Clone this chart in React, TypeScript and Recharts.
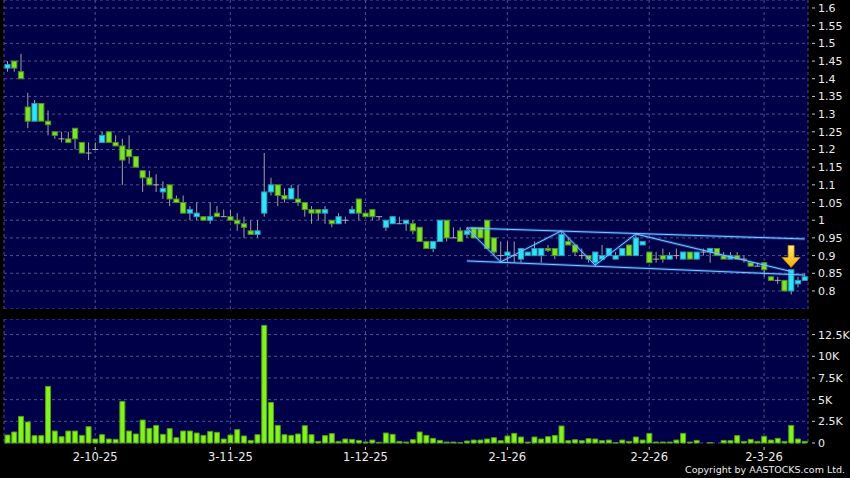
import {
  Bar,
  CartesianGrid,
  ComposedChart,
  ReferenceDot,
  ReferenceLine,
  XAxis,
  YAxis,
} from 'recharts';

// daily OHLC, oldest first
const open = [
  1.43, 1.45, 1.42, 1.32, 1.28, 1.33, 1.28, 1.25, 1.23, 1.23,
  1.26, 1.22, 1.19, 1.2, 1.22, 1.25, 1.22, 1.21, 1.2, 1.18,
  1.14, 1.12, 1.1, 1.08, 1.1, 1.06, 1.05, 1.02, 1.01, 1.01,
  1.0, 1.02, 1.01, 1.01, 1.0, 0.99, 0.97, 0.96, 1.02, 1.08,
  1.1, 1.07, 1.06, 1.06, 1.05, 1.03, 1.03, 1.02, 1.0, 0.99,
  1.0, 1.02, 1.06, 1.02, 1.03, 1.01, 0.98, 0.99, 0.99, 0.99,
  0.99, 0.98, 0.94, 0.92, 0.94, 1.0, 0.95, 0.97, 0.96, 0.98,
  0.98, 1.0, 0.95, 0.9, 0.9, 0.9, 0.89, 0.9, 0.9, 0.9,
  0.92, 0.92, 0.9, 0.94, 0.93, 0.9, 0.9, 0.88, 0.89, 0.9,
  0.89, 0.9, 0.93, 0.9, 0.93, 0.91, 0.89, 0.9, 0.89, 0.9,
  0.89, 0.91, 0.89, 0.91, 0.91, 0.92, 0.9, 0.89, 0.9, 0.89,
  0.88, 0.87, 0.88, 0.84, 0.83, 0.83, 0.8, 0.82, 0.83,
];
const high = [
  1.45, 1.45, 1.47, 1.36, 1.34, 1.33, 1.31, 1.25, 1.25, 1.25,
  1.26, 1.22, 1.22, 1.22, 1.25, 1.25, 1.24, 1.23, 1.24, 1.18,
  1.14, 1.14, 1.13, 1.11, 1.1, 1.07, 1.07, 1.04, 1.05, 1.01,
  1.05, 1.04, 1.03, 1.03, 1.02, 1.01, 1.0, 1.0, 1.19, 1.12,
  1.1, 1.09, 1.1, 1.1, 1.05, 1.04, 1.03, 1.04, 1.0, 1.02,
  1.01, 1.04, 1.06, 1.02, 1.03, 1.01, 1.0, 1.01, 1.01, 1.0,
  1.0, 0.98, 0.94, 0.94, 1.0, 1.0, 0.98, 0.98, 0.98, 0.98,
  0.98, 1.0, 0.95, 0.94, 0.94, 0.94, 0.92, 0.91, 0.94, 0.92,
  0.93, 0.92, 0.97, 0.95, 0.93, 0.92, 0.9, 0.91, 0.93, 0.92,
  0.91, 0.92, 0.93, 0.96, 0.94, 0.91, 0.91, 0.92, 0.91, 0.92,
  0.91, 0.91, 0.91, 0.92, 0.92, 0.92, 0.91, 0.91, 0.91, 0.9,
  0.88, 0.88, 0.88, 0.84, 0.84, 0.83, 0.86, 0.84, 0.85,
];
const low = [
  1.42, 1.42, 1.4, 1.26, 1.28, 1.28, 1.24, 1.23, 1.22, 1.22,
  1.2, 1.19, 1.17, 1.2, 1.22, 1.22, 1.21, 1.1, 1.16, 1.15,
  1.08, 1.1, 1.08, 1.06, 1.04, 1.05, 1.02, 1.0, 1.0, 1.0,
  0.99, 1.01, 1.01, 1.0, 0.97, 0.95, 0.96, 0.95, 1.01, 1.07,
  1.04, 1.05, 1.06, 1.04, 1.01, 0.99, 1.0, 0.99, 0.98, 0.99,
  0.99, 1.02, 1.0, 1.01, 1.0, 1.0, 0.97, 0.99, 0.99, 0.97,
  0.96, 0.94, 0.92, 0.91, 0.94, 0.94, 0.95, 0.94, 0.95, 0.95,
  0.95, 0.92, 0.9, 0.88, 0.88, 0.88, 0.88, 0.9, 0.9, 0.88,
  0.91, 0.89, 0.9, 0.93, 0.9, 0.89, 0.88, 0.87, 0.89, 0.9,
  0.89, 0.9, 0.9, 0.9, 0.93, 0.88, 0.88, 0.88, 0.89, 0.89,
  0.89, 0.89, 0.89, 0.9, 0.88, 0.9, 0.89, 0.89, 0.89, 0.88,
  0.87, 0.87, 0.84, 0.83, 0.82, 0.8, 0.79, 0.81, 0.83,
];
const close = [
  1.44, 1.43, 1.4, 1.28, 1.33, 1.28, 1.27, 1.24, 1.23, 1.22,
  1.23, 1.19, 1.19, 1.2, 1.24, 1.22, 1.21, 1.17, 1.18, 1.15,
  1.12, 1.1, 1.1, 1.09, 1.06, 1.05, 1.02, 1.03, 1.02, 1.0,
  1.01, 1.01, 1.01, 1.0, 0.99, 0.98, 0.96, 0.97, 1.08, 1.1,
  1.07, 1.06, 1.09, 1.05, 1.03, 1.02, 1.02, 1.03, 0.99, 1.01,
  1.0, 1.03, 1.02, 1.01, 1.01, 1.01, 1.0, 1.01, 0.99, 1.0,
  0.97, 0.94, 0.92, 0.94, 1.0, 0.95, 0.95, 0.94, 0.97, 0.95,
  0.95, 0.92, 0.91, 0.9, 0.91, 0.9, 0.92, 0.91, 0.92, 0.92,
  0.915, 0.9, 0.96, 0.93, 0.91, 0.9, 0.89, 0.91, 0.9, 0.92,
  0.9, 0.92, 0.9, 0.95, 0.94, 0.88, 0.89, 0.89, 0.9, 0.9,
  0.91, 0.89, 0.91, 0.91, 0.92, 0.9, 0.89, 0.9, 0.89, 0.89,
  0.87, 0.87, 0.86, 0.83, 0.83, 0.8, 0.86, 0.83, 0.84,
];
// volume in thousands
const volume = [
  0.92, 1.27, 3.07, 2.42, 0.85, 0.85, 6.53, 1.38, 0.73, 1.38,
  1.38, 0.88, 1.88, 0.46, 0.96, 0.46, 0.42, 4.8, 1.38, 1.04,
  2.65, 1.69, 2.03, 1.0, 1.65, 0.61, 1.38, 1.38, 1.15, 0.88,
  1.34, 1.23, 0.46, 0.92, 1.54, 0.81, 0.3, 0.96, 13.56, 4.68,
  2.03, 0.96, 0.88, 1.04, 2.0, 0.96, 0.19, 0.85, 1.08, 0.19,
  0.46, 0.42, 0.3, 0.11, 0.34, 0.08, 1.15, 1.0, 0.19, 0.11,
  0.38, 1.27, 0.88, 0.54, 0.3, 0.11, 0.11, 0.05, 0.23, 0.34,
  0.34, 0.46, 0.61, 0.27, 0.81, 1.11, 0.69, 0.11, 0.69, 0.46,
  0.73, 0.88, 1.96, 0.27, 0.38, 0.27, 0.5, 0.46, 0.27, 0.34,
  0.03, 0.34, 0.19, 0.69, 0.34, 1.11, 0.11, 0.11, 0.11, 0.34,
  1.11, 0.11, 0.3, 0, 0.05, 0, 0.3, 0.27, 0.85, 0.19,
  0.42, 0.19, 0.77, 0.34, 0.54, 0.19, 2.03, 0.46, 0.19,
];

const dateTicks = [13, 33, 53, 74, 95, 112];
const dateLabels = ['2-10-25', '3-11-25', '1-12-25', '2-1-26', '2-2-26', '2-3-26'];
const priceTicks = [
  0.8, 0.85, 0.9, 0.95, 1, 1.05, 1.1, 1.15, 1.2, 1.25, 1.3, 1.35, 1.4, 1.45, 1.5, 1.55, 1.6,
];
const volumeTicks = [0, 2.5, 5, 7.5, 10, 12.5];

// hand-drawn channel and zigzag, as [day index, price]
const channelUpper = [[68, 0.978], [118, 0.947]];
const channelLower = [[68, 0.885], [118, 0.845]];
const zigzag = [[68, 0.978], [73, 0.882], [82, 0.97], [87, 0.873], [93, 0.961], [116, 0.855]];
const arrowDay = 116;
const arrowPrice = 0.8975;

const rows = open.map((o, i) => ({
  i,
  o,
  h: high[i],
  l: low[i],
  c: close[i],
  v: volume[i],
}));

const BG = '#000048';
const GRID = '#50508c';
const TEXT = '#ececec';
const FONT = 'DejaVu Sans';

const Candle = (props: any) => {
  const { x, y, width, height, payload } = props;
  const { o, h, l, c } = payload;
  const top = Math.min(y, y + height);
  const span = Math.abs(height);
  const at = (v: number) => (h === l ? top : top + ((h - v) / (h - l)) * span);
  const mid = x + width / 2;
  const wick = <line x1={mid} x2={mid} y1={at(h)} y2={at(l)} stroke="#a0a0a0" strokeWidth={1} />;
  if (o === c) {
    return (
      <g>
        {wick}
        <line x1={x + 0.5} x2={x + width - 0.5} y1={at(o)} y2={at(o)} stroke="#b0b0b0" strokeWidth={1} />
      </g>
    );
  }
  const up = c > o;
  const bTop = at(Math.max(o, c));
  const bBot = at(Math.min(o, c));
  return (
    <g>
      {wick}
      <rect
        x={x + 0.9}
        y={bTop}
        width={width - 1.8}
        height={Math.max(bBot - bTop, 1)}
        fill={up ? '#2fe4f6' : '#7ee22a'}
        stroke={up ? '#2a9cb8' : '#4a9420'}
        strokeWidth={1}
      />
    </g>
  );
};

const PriceTick = ({ x, y, payload }: any) => (
  <g>
    <line x1={x + 4} x2={x + 7} y1={y} y2={y} stroke="#c8c8c8" />
    <text x={x + 10} y={y} dy={4} fill={TEXT} fontSize={11} fontFamily={FONT}>
      {String(payload.value)}
    </text>
  </g>
);

const VolumeTick = ({ x, y, payload }: any) => (
  <g>
    <line x1={x + 4} x2={x + 7} y1={y} y2={y} stroke="#c8c8c8" />
    <text x={x + 10} y={y} dy={4} fill={TEXT} fontSize={11} fontFamily={FONT}>
      {payload.value === 0 ? '0' : `${payload.value}K`}
    </text>
  </g>
);

const DateTick = ({ x, y, payload }: any) => (
  <g>
    <line x1={x} x2={x} y1={y + 4} y2={y + 7} stroke="#c8c8c8" />
    <text x={x} y={y + 18} textAnchor="middle" fill={TEXT} fontSize={11.5} fontFamily={FONT}>
      {dateLabels[dateTicks.indexOf(payload.value)]}
    </text>
  </g>
);

const Arrow = ({ cx, cy }: any) => (
  <g>
    <defs>
      <linearGradient id="arrowFill" x1="0" y1="0" x2="0" y2="1">
        <stop offset="0%" stopColor="#fff07a" />
        <stop offset="100%" stopColor="#f5a800" />
      </linearGradient>
    </defs>
    <polygon
      points={`${cx - 7},${cy - 11} ${cx - 1},${cy - 11} ${cx - 1},${cy + 1} ${cx + 5},${cy + 1} ${cx - 4},${cy + 11} ${cx - 13},${cy + 1} ${cx - 7},${cy + 1}`}
      transform={`translate(${4},0)`}
      fill="url(#arrowFill)"
      stroke="#c98a00"
      strokeWidth={0.8}
    />
  </g>
);

const segmentsOf = (pts: number[][]) =>
  pts.slice(1).map((p, k) => [
    { x: pts[k][0], y: pts[k][1] },
    { x: p[0], y: p[1] },
  ]);

const trendSegments = [
  ...segmentsOf(channelUpper),
  ...segmentsOf(channelLower),
  ...segmentsOf(zigzag),
];

export default function App() {
  return (
    <div style={{ position: 'absolute', left: 0, top: 0, width: 850, height: 478, background: '#000', overflow: 'hidden' }}>
      <div style={{ position: 'absolute', left: 0, top: 0 }}>
        <ComposedChart
          width={850}
          height={309}
          data={rows}
          margin={{ top: 0, right: 0, bottom: 0, left: 4 }}
          barCategoryGap={0}
        >
          <CartesianGrid fill={BG} stroke={GRID} strokeDasharray="3 3" />
          <XAxis dataKey="i" type="category" hide ticks={dateTicks} />
          <YAxis
            orientation="right"
            type="number"
            width={42}
            domain={[0.749, 1.6226]}
            ticks={priceTicks}
            interval={0}
            axisLine={false}
            tickLine={false}
            tickSize={0}
            tickMargin={0}
            tick={(p: any) => <PriceTick {...p} />}
          />
          <Bar dataKey={(d: any) => [d.l, d.h]} shape={(p: any) => <Candle {...p} />} isAnimationActive={false} />
          {trendSegments.map((s, k) => (
            <ReferenceLine key={`g${k}`} segment={s} stroke="#3c8cff" strokeOpacity={0.35} strokeWidth={3} />
          ))}
          {trendSegments.map((s, k) => (
            <ReferenceLine key={`l${k}`} segment={s} stroke="#7cc8ff" strokeWidth={1} />
          ))}
          <ReferenceDot x={arrowDay} y={arrowPrice} shape={(p: any) => <Arrow {...p} />} />
        </ComposedChart>
      </div>
      <div style={{ position: 'absolute', left: 0, top: 319 }}>
        <ComposedChart
          width={850}
          height={159}
          data={rows}
          margin={{ top: 0, right: 0, bottom: 0, left: 4 }}
          barCategoryGap={0}
        >
          <CartesianGrid fill={BG} stroke={GRID} strokeDasharray="3 3" />
          <XAxis
            dataKey="i"
            type="category"
            ticks={dateTicks}
            height={35}
            axisLine={false}
            tickLine={false}
            tickSize={0}
            tickMargin={0}
            interval={0}
            tick={(p: any) => <DateTick {...p} />}
          />
          <YAxis
            orientation="right"
            type="number"
            width={42}
            domain={[0, 14.3]}
            ticks={volumeTicks}
            interval={0}
            axisLine={false}
            tickLine={false}
            tickSize={0}
            tickMargin={0}
            tick={(p: any) => <VolumeTick {...p} />}
          />
          <Bar dataKey="v" barSize={5} fill="#84f21e" stroke="#4f9e12" strokeWidth={1} isAnimationActive={false} />
        </ComposedChart>
      </div>
      <div
        style={{
          position: 'absolute',
          right: 5,
          top: 464,
          color: TEXT,
          fontSize: 9.5,
          lineHeight: '12px',
          fontFamily: FONT,
          whiteSpace: 'nowrap',
        }}
      >
        Copyright by AASTOCKS.com Ltd.
      </div>
    </div>
  );
}
